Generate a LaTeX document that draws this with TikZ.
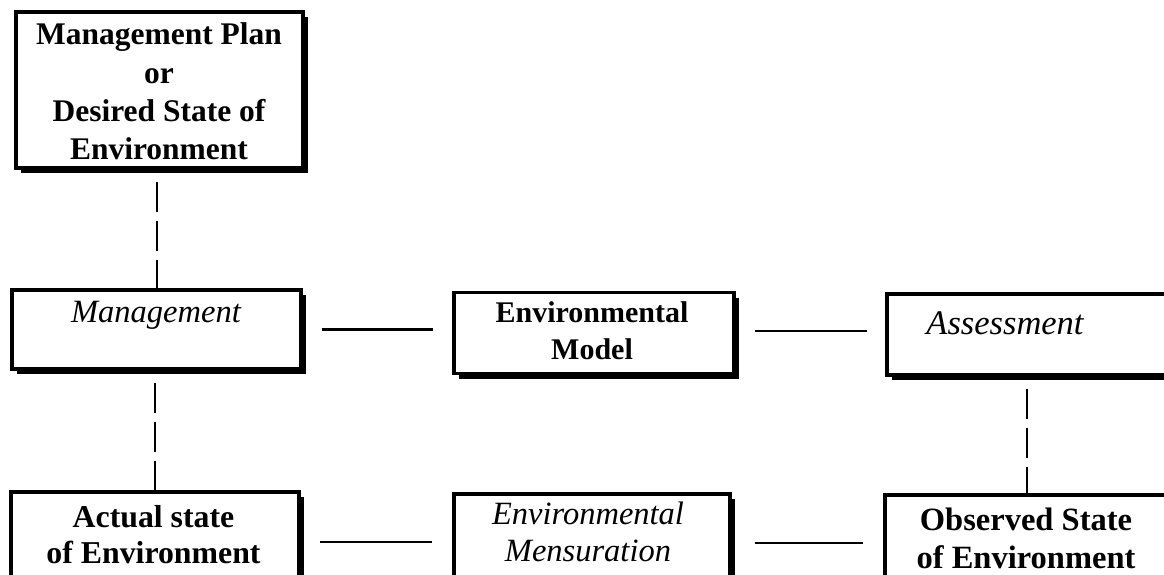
\documentclass[tikz,border=0pt]{standalone}
\usepackage{fontspec}
\setmainfont{Liberation Serif}
\usetikzlibrary{shadows}
\begin{document}
\begin{tikzpicture}[x=1pt,y=-1pt,
  box/.style={rectangle, draw=black, line width=3.5pt, fill=white, inner sep=0pt,
    general shadow={fill=black, shadow xshift=5pt, shadow yshift=-5pt}},
  btxt/.style 2 args={inner sep=0pt, align=center, font=\fontsize{#1}{#2}\selectfont\bfseries},
  itxt/.style 2 args={inner sep=0pt, align=center, font=\fontsize{#1}{#2}\selectfont\itshape},
  hline/.style={line width=2.2pt},
  vdash/.style={line width=2pt, dash pattern=on 30pt off 9pt, dash phase=30pt}]
\useasboundingbox (0,0) rectangle (1164,574);
\fill[white] (0,0) rectangle (1164,574);
\clip (0,0) rectangle (1164,574);

% boxes
\node[box, minimum width=287pt, minimum height=156pt] (plan) at (159.5,90) {};
\node[box, minimum width=289pt, minimum height=79pt] (mgmt) at (156.5,329.5) {};
\node[box, minimum width=280pt, minimum height=81pt] (model) at (594,333) {};
\node[box, minimum width=323pt, minimum height=81pt] (assess) at (1048.5,334.5) {};
\node[box, minimum width=288pt, minimum height=118pt] (actual) at (155,551) {};
\node[box, minimum width=276pt, minimum height=116pt] (mens) at (592,552) {};
\node[box, minimum width=325pt, minimum height=115pt] (obs) at (1047.5,552.5) {};

% texts
\node[btxt={31.5}{38.3}] (plantxt) at (159,91.4) {Management Plan\\or\\Desired State of\\Environment};
\node[itxt={32.5}{37}] (mgmttxt) at (156,315) {Management};
\node[btxt={30}{37}] (modeltxt) at (592,330.4) {Environmental\\Model};
\node[itxt={34.5}{37}] (assesstxt) at (1005,323.7) {Assessment};
\node[btxt={31.8}{36}] (actualtxt) at (153.5,534.2) {Actual state\\of Environment};
\node[itxt={32.5}{37}] (menstxt) at (588,532.4) {Environmental\\Mensuration};
\node[btxt={32.5}{38}] (obstxt) at (1026,538) {Observed State\\of Environment};

% vertical dashed connectors
\coordinate (c3) at (1027,0);
\draw[vdash] ([yshift=-3pt]plan.south -| mgmt.north) -- (mgmt.north);
\draw[vdash] ([yshift=-3pt]mgmt.south -| actual.north) -- (actual.north);
\draw[vdash] ([yshift=-3pt]assess.south west -| c3) -- (obs.north west -| c3);

% horizontal connectors
\draw[hline, shorten <=19pt, shorten >=19pt] (mgmt.east) -- (mgmt.east -| model.west);
\draw[hline, shorten <=19pt, shorten >=18pt] ([yshift=2pt]model.east) -- ([yshift=2pt]model.east -| assess.west);
\draw[hline, shorten <=19pt, shorten >=20pt] ([yshift=-51.75pt]actual.north east) -- ([yshift=-51.75pt]actual.north east -| mens.west);
\draw[hline, shorten <=23pt, shorten >=20pt] ([yshift=-50.75pt]mens.north east) -- ([yshift=-50.75pt]mens.north east -| obs.west);
\end{tikzpicture}
\end{document}
